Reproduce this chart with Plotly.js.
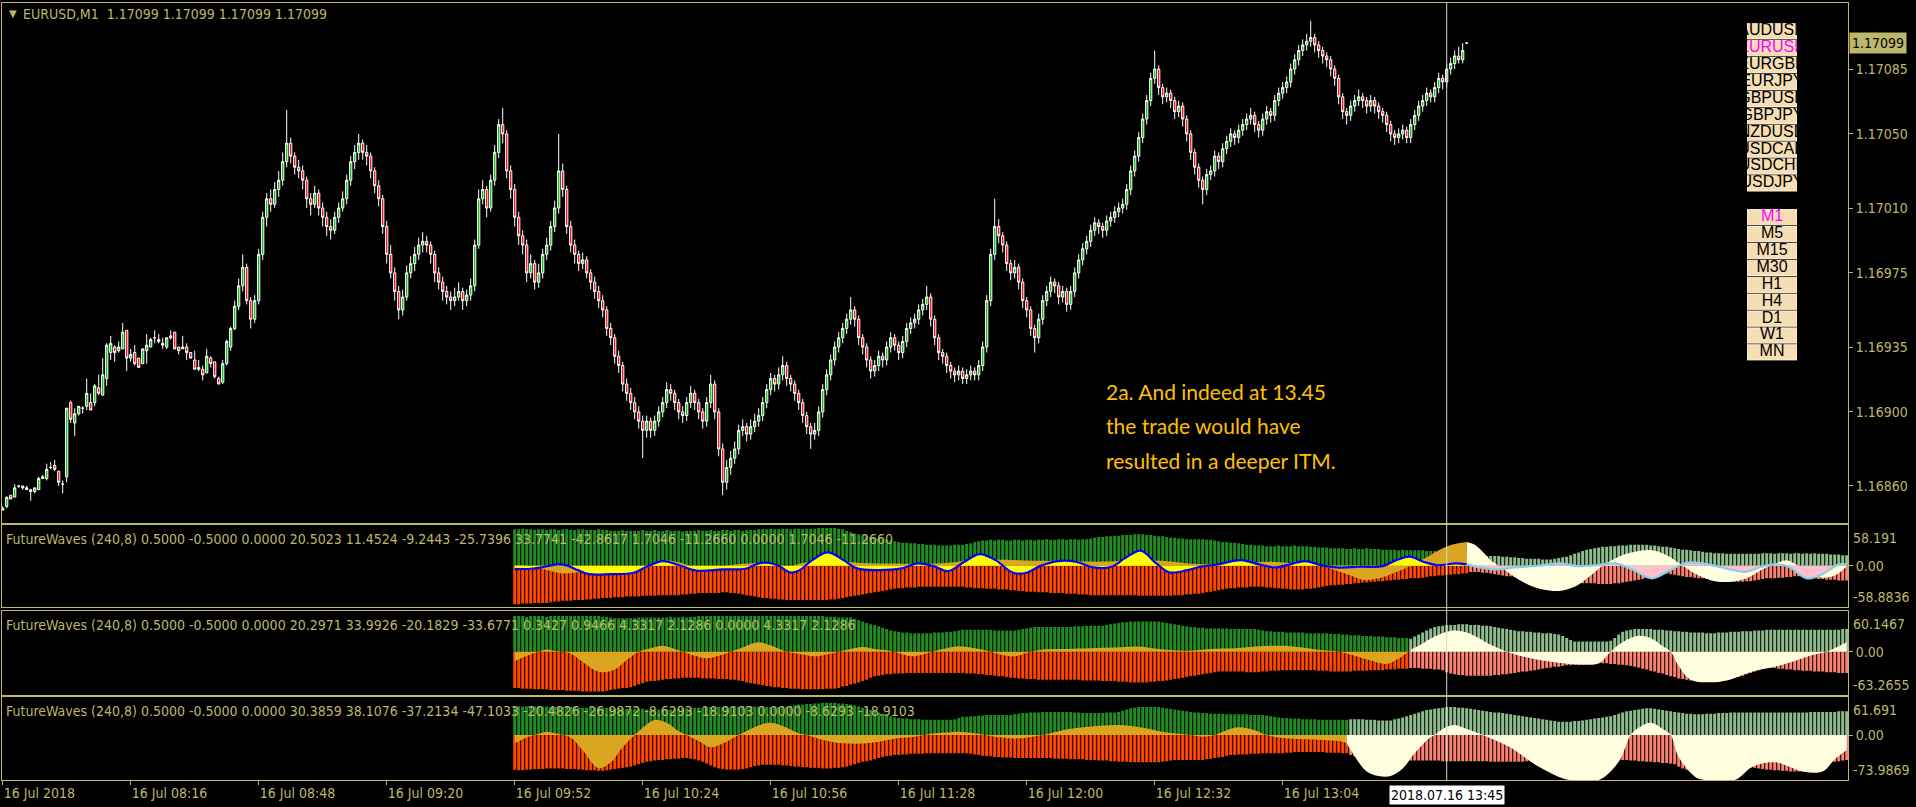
<!DOCTYPE html>
<html><head><meta charset="utf-8">
<script src="https://cdn.plot.ly/plotly-3.0.1.min.js"></script>
<style>html,body{margin:0;padding:0;background:#000;overflow:hidden}#chart{width:1916px;height:807px}</style>
</head><body><div id="chart"></div>
<script>
// ---------------- DATA ----------------
// EURUSD M1 candles, bar 0 = 16 Jul 07:44; values in 1e-5 above 1.16000
const candleOpen=[847,849,855,854,860,860,858,858,857,858,864,864,870,871,868,861,865,905,894,899,902,903,905,905,913,909,918,932,935,933,934,944,929,932,929,926,933,935,940,939,937,935,941,943,935,934,935,932,928,924,923,921,929,927,918,916,926,935,
945,957,968,978,960,950,960,985,1005,1015,1012,1020,1025,1035,1045,1038,1032,1030,1025,1015,1012,1018,1010,1005,1000,998,1005,1010,1015,1025,1035,1040,1045,1040,1038,1030,1022,1015,1000,985,975,965,955,962,975,980,985,990,992,990,985,975,970,965,962,960,962,965,960,963,968,990,1015,1020,1010,1025,1040,1055,1050,1030,
1020,1005,995,990,975,980,970,975,985,990,1000,1010,1030,1020,1000,990,985,980,982,975,970,965,960,955,945,940,930,925,915,910,905,900,895,890,895,890,895,900,905,912,910,905,900,898,905,910,905,900,895,905,915,900,880,862,870,875,880,890,892,888,892,895,898,905,912,918,915,920,925,918,
915,910,905,898,892,888,890,900,912,920,928,935,940,945,950,955,950,940,935,928,922,925,930,928,935,940,936,932,938,945,948,950,955,958,962,950,940,932,930,925,922,920,922,918,920,922,920,925,935,960,985,1000,995,990,980,975,978,970,960,955,945,940,950,960,965,970,968,962,965,958,
965,975,982,988,992,998,1002,1000,998,1003,1005,1008,1010,1012,1020,1030,1038,1048,1058,1068,1080,1085,1075,1070,1072,1068,1062,1065,1058,1050,1040,1032,1025,1020,1028,1030,1038,1035,1042,1046,1050,1048,1052,1055,1058,1060,1055,1052,1058,1062,1060,1068,1072,1075,1078,1085,1090,1095,1098,1100,
1102,1098,1095,1092,1090,1085,1080,1070,1062,1060,1065,1068,1070,1068,1065,1068,1065,1062,1060,1055,1050,1048,1050,1052,1048,1055,1060,1065,1068,1072,1070,1075,1080,1078,1085,1088,1092,1090,1099];
const candleHigh=[849,854,855,861,860,860,860,858,859,865,866,872,873,874,868,863,902,906,902,903,903,918,910,915,920,929,937,941,936,938,948,944,934,936,929,934,942,940,944,942,940,940,944,943,935,941,937,932,933,928,925,934,930,927,919,928,939,946,
960,972,985,980,962,963,988,1008,1018,1020,1024,1030,1040,1063,1048,1040,1036,1033,1027,1018,1022,1020,1013,1008,1004,1008,1013,1019,1028,1038,1044,1050,1047,1044,1040,1032,1025,1017,1003,990,978,968,966,979,984,989,994,997,995,992,987,978,973,968,965,967,970,967,966,972,993,1020,1025,1022,1028,1044,1058,1064,1052,1033,
1023,1008,998,993,985,982,980,988,994,1003,1014,1050,1034,1022,1003,993,987,986,984,977,973,968,963,957,948,942,933,927,918,913,908,903,898,898,897,898,903,908,916,915,912,907,903,908,914,912,907,902,908,920,917,902,883,874,879,884,893,896,894,896,899,902,908,915,921,920,924,930,927,920,
917,912,907,900,894,894,903,915,923,931,938,943,948,953,962,957,952,942,937,930,928,933,932,938,943,942,938,941,948,951,953,958,961,968,964,952,942,934,932,927,924,925,924,923,925,924,928,938,963,988,1015,1004,997,992,982,982,980,972,962,957,947,953,963,968,973,972,970,968,967,968,
978,985,991,995,1001,1005,1004,1002,1006,1008,1011,1013,1015,1023,1033,1041,1051,1061,1071,1083,1095,1087,1077,1075,1074,1070,1068,1067,1060,1052,1042,1034,1027,1031,1033,1041,1040,1045,1049,1053,1052,1055,1058,1061,1064,1062,1057,1061,1065,1064,1071,1075,1078,1081,1088,1093,1098,1101,1104,1111,
1104,1100,1097,1094,1092,1087,1082,1072,1064,1068,1071,1074,1072,1070,1071,1070,1067,1064,1062,1057,1052,1053,1055,1054,1058,1063,1068,1071,1075,1074,1078,1083,1082,1088,1091,1095,1097,1099,1099];
const candleLow=[847,848,853,854,859,858,858,852,856,858,864,863,869,868,860,856,862,894,887,898,899,901,901,903,909,909,914,928,927,932,934,922,927,925,924,926,926,935,937,937,934,934,939,934,931,934,928,929,923,922,917,921,924,918,915,915,925,933,
944,955,965,958,945,948,958,982,1000,1008,1010,1016,1022,1032,1034,1028,1026,1020,1010,1006,1010,1006,1000,995,993,996,1002,1008,1012,1022,1031,1036,1036,1033,1026,1018,1011,996,980,972,960,950,952,960,972,976,982,986,986,980,970,966,960,958,955,957,960,955,957,960,965,988,1012,1005,1008,1022,1037,1045,1026,1015,
1000,990,985,970,972,966,967,972,982,987,997,1007,1016,996,986,980,976,977,972,966,961,956,951,941,936,926,921,911,906,901,896,891,875,886,886,887,892,897,902,906,901,896,894,895,902,901,896,891,892,902,896,876,855,858,866,872,877,887,884,885,889,892,895,902,909,911,912,917,914,911,
906,901,894,888,880,885,887,897,909,917,925,932,937,942,947,946,936,931,924,918,919,922,924,925,932,933,928,929,935,942,945,947,952,955,946,936,928,926,921,918,916,917,915,915,917,917,917,922,932,957,982,991,986,976,971,972,966,956,951,941,932,937,947,957,962,964,958,959,954,955,
962,972,979,985,989,995,996,994,995,1000,1002,1005,1007,1009,1017,1027,1035,1045,1055,1065,1077,1071,1066,1067,1064,1058,1059,1054,1046,1036,1028,1021,1012,1017,1025,1027,1031,1032,1039,1043,1044,1045,1049,1052,1055,1051,1048,1049,1055,1056,1057,1065,1069,1072,1075,1082,1087,1092,1095,1097,
1094,1091,1088,1086,1081,1076,1066,1058,1055,1057,1062,1065,1064,1061,1062,1061,1058,1056,1051,1046,1044,1045,1047,1045,1045,1052,1057,1062,1065,1067,1067,1072,1074,1075,1082,1085,1088,1088,1099];
const candleClose=[848,854,853,859,860,859,859,857,859,864,865,869,870,869,862,861,902,896,899,903,902,910,901,914,910,920,936,937,932,935,943,929,931,926,924,934,936,939,940,938,936,940,940,934,933,935,932,929,923,923,920,930,926,919,915,926,938,945,
957,968,978,960,950,960,985,1005,1015,1012,1020,1025,1035,1045,1038,1032,1030,1025,1015,1012,1018,1010,1005,1000,998,1005,1010,1015,1025,1035,1040,1045,1040,1038,1030,1022,1015,1000,985,975,965,955,962,975,980,985,990,992,990,985,975,970,965,962,960,962,965,960,963,968,990,1015,1020,1010,1025,1040,1055,1050,1030,1020,
1005,995,990,975,980,970,975,985,990,1000,1010,1030,1020,1000,990,985,980,982,975,970,965,960,955,945,940,930,925,915,910,905,900,895,890,895,890,895,900,905,912,910,905,900,898,905,910,905,900,895,905,915,900,880,862,870,875,880,890,892,888,892,895,898,905,912,918,915,920,925,918,915,
910,905,898,892,888,890,900,912,920,928,935,940,945,950,955,950,940,935,928,922,925,930,928,935,940,936,932,938,945,948,950,955,958,962,950,940,932,930,925,922,920,922,918,920,922,920,925,935,960,985,1000,995,990,980,975,978,970,960,955,945,940,950,960,965,970,968,962,965,958,965,
975,982,988,992,998,1002,1000,998,1003,1005,1008,1010,1012,1020,1030,1038,1048,1058,1068,1080,1085,1075,1070,1072,1068,1062,1065,1058,1050,1040,1032,1025,1020,1028,1030,1038,1035,1042,1046,1050,1048,1052,1055,1058,1060,1055,1052,1058,1062,1060,1068,1072,1075,1078,1085,1090,1095,1098,1100,1102,
1098,1095,1092,1090,1085,1080,1070,1062,1060,1065,1068,1070,1068,1065,1068,1065,1062,1060,1055,1050,1048,1050,1052,1048,1055,1060,1065,1068,1072,1070,1075,1080,1078,1085,1088,1092,1090,1095,1099];

const timeTickBars=[0,32,64,96,128,160,192,224,256,288,320];
const timeTickText=["16 Jul 2018","16 Jul 08:16","16 Jul 08:48","16 Jul 09:20","16 Jul 09:52","16 Jul 10:24","16 Jul 10:56","16 Jul 11:28","16 Jul 12:00","16 Jul 12:32","16 Jul 13:04"];
const priceTicks=[1.17085,1.17050,1.17010,1.16975,1.16935,1.16900,1.16860];
const lastPrice=1.17099;
const cursorBar=361, cursorLabel="2018.07.16 13:45";

// FutureWaves indicator, first bar = 128 (09:52)
const waveStart=128;
const up1=[52,52,53,52,52,51,52,52,51,52,52,51,52,52,51,51,52,52,51,51,51,52,51,51,50,50,50,51,50,50,50,50,51,50,50,51,50,50,51,50,50,50,49,50,50,50,51,50,50,51,50,50,51,51,50,51,51,50,51,51,51,52,52,52,53,52,52,53,53,52,53,53,52,53,53,53,54,54,54,54,54,53,52,50,48,46,45,43,42,41,40,39,38,37,36,35,34,33,33,32,32,31,31,30,30,30,29,29,29,29,30,30,30,31,32,34,35,36,36,37,36,37,37,36,36,37,37,36,37,37,36,37,37,38,37,37,38,38,37,38,38,37,38,38,39,40,41,41,42,42,43,43,44,44,44,45,45,45,44,44,43,42,42,41,40,40,39,39,38,38,38,38,38,37,37,36,35,34,34,33,33,32,31,30,30,29,29,29,28,28,28,29,28,28,28,29,28,28,28,27,27,26,26,26,25,25,25,25,24,24,25,24,24,25,24,24,24,23,23,23,23,22,23,22,22,22,22,22,21,21,21,21,21,20,20,20,20,20,20,16,15,15,15,14,14,14,14,13,13,12,12,11,11,10,10,10,10,9,9,9,10,11,12,13,15,17,19,21,23,24,25,26,27,27,28,28,29,29,29,30,30,30,30,30,29,29,28,27,27,26,25,24,23,23,22,21,21,20,19,19,18,18,18,17,17,17,17,17,17,17,17,17,18,18,18,17,18,18,18,17,18,18,17,18,17,18,17,17,17,16,16,16,15,15];
const dn1=[-55,-55,-54,-54,-54,-53,-53,-53,-53,-52,-51,-51,-50,-50,-50,-49,-49,-49,-48,-48,-47,-47,-46,-46,-46,-45,-45,-45,-44,-44,-44,-44,-43,-43,-43,-43,-42,-42,-42,-42,-42,-42,-41,-41,-40,-40,-39,-39,-39,-39,-39,-39,-38,-38,-39,-39,-40,-41,-42,-43,-44,-45,-46,-46,-47,-47,-48,-48,-49,-49,-49,-49,-49,-49,-49,-49,-49,-49,-49,-48,-48,-47,-46,-45,-44,-43,-42,-41,-40,-39,-38,-37,-36,-35,-34,-33,-32,-32,-31,-31,-31,-30,-30,-30,-30,-30,-30,-30,-30,-30,-30,-30,-30,-31,-31,-32,-32,-32,-33,-33,-33,-34,-34,-34,-35,-35,-36,-36,-37,-37,-37,-38,-38,-38,-39,-39,-39,-39,-40,-40,-40,-41,-41,-41,-42,-42,-42,-42,-42,-42,-42,-42,-42,-42,-42,-42,-43,-43,-43,-43,-43,-43,-43,-43,-43,-42,-42,-42,-41,-41,-40,-40,-39,-38,-37,-36,-35,-34,-33,-32,-32,-31,-31,-31,-30,-30,-30,-30,-31,-31,-32,-32,-33,-33,-34,-34,-34,-34,-33,-33,-32,-31,-30,-29,-28,-28,-27,-27,-26,-26,-25,-25,-24,-24,-23,-23,-22,-22,-21,-21,-20,-20,-19,-19,-18,-18,-18,-17,-16,-15,-15,-14,-14,-13,-13,-12,-12,-11,-11,-9,-9,-9,-10,-10,-11,-12,-13,-14,-15,-15,-16,-17,-18,-19,-20,-21,-21,-22,-22,-23,-23,-24,-24,-24,-25,-25,-25,-25,-25,-25,-25,-26,-26,-26,-26,-25,-25,-24,-23,-22,-21,-20,-19,-17,-15,-13,-12,-11,-11,-12,-13,-14,-15,-16,-16,-17,-18,-18,-19,-20,-21,-22,-22,-23,-23,-23,-23,-23,-22,-22,-21,-20,-19,-18,-18,-18,-17,-17,-16,-16,-15,-15,-16,-17,-18,-18,-19,-19,-20,-20,-20,-21,-21,-21];
const up2=[52,52,52,51,52,52,52,52,51,52,52,52,52,52,52,52,52,52,52,52,52,52,51,51,50,49,49,49,49,49,49,50,50,50,50,50,50,50,50,51,50,50,51,50,51,51,52,52,52,52,52,52,52,52,52,52,52,52,52,52,52,52,52,52,52,52,52,52,52,52,52,52,52,52,52,52,52,52,51,51,51,50,50,50,50,48,46,44,42,40,39,37,35,33,31,30,29,28,28,27,27,27,27,27,27,28,28,28,29,29,30,31,32,32,32,32,32,32,32,32,31,31,31,31,31,31,32,33,34,35,36,36,36,36,36,36,36,36,36,36,37,37,37,38,38,38,38,38,39,40,41,42,43,43,44,44,44,44,44,44,44,44,43,42,41,40,39,38,37,36,36,35,35,34,34,34,34,34,34,33,33,33,33,33,33,33,32,31,30,30,29,29,29,28,28,28,28,28,27,27,27,27,27,27,26,26,26,25,25,24,24,24,23,23,23,22,22,22,21,21,21,20,20,20,19,22,25,28,31,34,36,37,38,39,39,39,40,40,40,39,39,39,38,38,37,36,35,34,33,32,31,30,30,29,29,28,28,27,27,27,26,25,23,20,17,15,15,15,15,15,15,15,15,15,16,20,25,29,31,32,33,33,33,33,33,32,32,32,31,31,30,30,29,29,28,28,28,28,27,27,27,28,28,28,29,29,29,30,30,30,31,31,31,32,32,32,32,32,32,32,32,32,32,32,32,32,32,32,32,32,32,32,33,33];
const dn2=[-53,-53,-54,-54,-54,-55,-55,-55,-55,-56,-56,-56,-56,-57,-57,-57,-57,-58,-58,-58,-58,-58,-58,-57,-56,-55,-54,-53,-53,-52,-50,-48,-46,-44,-43,-43,-42,-41,-40,-40,-39,-39,-38,-38,-38,-38,-38,-39,-39,-39,-39,-40,-40,-40,-41,-41,-42,-43,-45,-46,-47,-48,-49,-50,-51,-52,-52,-53,-53,-54,-54,-54,-55,-55,-55,-55,-55,-55,-54,-54,-54,-53,-51,-50,-48,-47,-45,-43,-41,-38,-36,-35,-34,-33,-33,-32,-32,-32,-31,-31,-31,-31,-31,-31,-31,-31,-31,-31,-31,-31,-31,-31,-31,-32,-32,-32,-33,-33,-34,-34,-35,-36,-36,-37,-38,-38,-39,-39,-40,-40,-40,-41,-41,-41,-41,-41,-41,-41,-41,-41,-41,-41,-42,-42,-42,-42,-42,-43,-43,-43,-43,-44,-44,-44,-45,-45,-45,-45,-45,-44,-44,-43,-43,-42,-41,-40,-39,-38,-37,-36,-35,-34,-33,-32,-31,-30,-29,-29,-29,-29,-29,-29,-29,-30,-30,-30,-30,-29,-29,-28,-28,-28,-27,-27,-27,-27,-27,-27,-27,-27,-27,-28,-28,-28,-29,-29,-29,-29,-29,-29,-28,-28,-28,-28,-27,-27,-27,-27,-26,-26,-26,-25,-25,-25,-24,-24,-24,-25,-25,-25,-26,-26,-27,-30,-32,-33,-34,-34,-35,-35,-35,-35,-35,-35,-35,-34,-34,-33,-33,-32,-31,-30,-29,-29,-28,-27,-26,-25,-24,-23,-22,-22,-21,-20,-20,-19,-19,-18,-18,-17,-17,-17,-17,-17,-18,-18,-19,-19,-20,-21,-22,-23,-25,-26,-28,-29,-31,-32,-34,-36,-37,-39,-40,-41,-42,-42,-43,-43,-43,-43,-42,-42,-41,-40,-39,-38,-37,-35,-33,-31,-29,-27,-25,-24,-24,-24,-25,-25,-26,-26,-27,-27,-28,-28,-28,-29,-29,-29,-30,-30,-30,-31,-31,-31];
const up3=[47,47,47,47,47,47,47,47,47,46,46,46,46,46,46,46,45,45,45,45,45,45,45,45,44,44,44,44,43,43,43,43,43,42,42,42,42,42,42,42,43,43,44,44,44,45,45,45,46,46,46,46,46,46,46,47,47,47,47,47,47,47,47,46,46,46,46,47,47,47,49,50,50,51,51,52,52,53,53,53,53,52,52,51,50,49,47,45,43,41,39,37,35,33,31,29,28,27,27,26,26,26,25,25,25,25,25,25,25,25,26,28,30,30,31,31,32,32,33,33,33,33,33,33,33,34,35,36,36,37,37,37,38,38,38,38,38,38,38,38,37,37,36,36,36,36,36,36,37,37,37,38,40,42,44,45,46,46,46,46,46,46,45,44,43,42,41,40,39,38,37,37,36,36,35,35,35,35,34,34,34,34,34,34,33,33,33,33,32,31,30,29,28,28,27,27,27,26,26,26,26,25,25,25,25,25,25,25,25,26,26,26,26,25,25,25,24,24,24,24,26,27,29,31,33,35,37,39,41,42,43,44,45,46,46,46,45,45,44,43,42,41,40,39,38,37,37,36,35,34,33,32,31,30,29,28,27,26,25,24,23,22,22,22,22,23,23,24,25,26,27,28,29,30,31,33,35,37,39,40,41,42,43,44,44,43,42,41,40,39,38,37,36,35,35,34,34,34,35,35,35,36,36,36,37,37,37,37,37,37,37,37,37,37,37,37,37,37,37,37,37,37,37,37,38,38,38,38,38,38,38,39,39,39];
const dn3=[-57,-58,-58,-57,-57,-56,-56,-56,-55,-55,-55,-55,-55,-56,-56,-56,-57,-57,-58,-58,-58,-59,-59,-58,-57,-56,-55,-54,-53,-52,-50,-48,-46,-44,-43,-42,-41,-41,-40,-40,-39,-39,-38,-38,-39,-40,-42,-44,-47,-50,-53,-55,-56,-57,-57,-57,-57,-56,-55,-53,-51,-50,-49,-49,-49,-49,-49,-50,-50,-51,-52,-52,-53,-53,-54,-54,-54,-55,-55,-55,-54,-54,-53,-52,-50,-48,-46,-44,-43,-42,-40,-38,-36,-35,-34,-33,-33,-32,-32,-31,-31,-31,-31,-30,-30,-30,-30,-30,-30,-30,-30,-30,-30,-30,-31,-32,-33,-34,-35,-35,-36,-36,-37,-37,-37,-38,-38,-38,-38,-38,-38,-38,-38,-38,-38,-39,-39,-39,-39,-40,-40,-40,-40,-41,-41,-41,-42,-42,-42,-43,-43,-44,-44,-44,-45,-45,-45,-45,-45,-45,-45,-45,-44,-43,-42,-41,-41,-41,-41,-41,-41,-41,-41,-40,-39,-38,-37,-36,-34,-33,-33,-32,-32,-32,-31,-31,-31,-30,-30,-30,-30,-30,-30,-29,-29,-28,-28,-28,-28,-28,-28,-28,-28,-29,-29,-29,-29,-30,-30,-33,-35,-37,-38,-39,-40,-40,-40,-40,-41,-41,-41,-41,-41,-41,-42,-42,-42,-42,-42,-42,-42,-42,-43,-43,-43,-43,-43,-43,-43,-43,-43,-43,-43,-43,-44,-44,-44,-44,-44,-44,-44,-44,-44,-43,-43,-43,-44,-44,-45,-45,-45,-46,-46,-46,-46,-45,-45,-45,-44,-44,-44,-44,-43,-43,-42,-42,-41,-41,-41,-42,-42,-43,-43,-44,-44,-45,-45,-46,-46,-47,-48,-52,-55,-57,-57,-56,-56,-55,-55,-55,-54,-54,-53,-53,-52,-52,-51,-51,-52,-53,-54,-55,-56,-57,-57,-58,-58,-59,-59,-60,-60,-60,-60,-59,-58,-56,-54,-51,-48,-46,-44,-43,-42,-41];
// wave curves read at turning points: [bar, value]
const wave1Bar=[128,132,136,140,145,150,156,160,163,166,169,172,176,180,185,189,193,197,200,205,208,212,216,225,232,238,243,248,254,260,265,270,276,282,287,292,297,303,310,316,322,328,333,337,340,344,348,352,356,360,363,366,368,370,372,374,377,381,385,389,393,397,400,404,408,412,416,420,424,428,432,436,440,442,444,446,448,449,452,455,458,461];
const wave1Val=[1,0,-6,-11,-9,-11,-11,-6,2,7.6,5,0,-3,0,3,3.5,1,0,4,7.6,8,5,3.5,3,3,5,10,9,8,7,7,6,6,8,8,6,3,2,3,5.7,4,2,-6,-14,-20,-18,-10,0,12,25,31,34,30,20,8,0,-12,-26,-34,-36,-30,-14,0,13,20,22.4,15,0,-14,-22,-23,-18,-5,0,5,8,3,0,-12,-17,-14,-1];
const line1Bar=[128,132,135.5,138.8,141,143.8,146.6,152,157.8,161,165,169,173.4,180,185.7,189,191.3,194,196.8,199,202.4,206.3,210.2,213.6,219.2,224.7,228.7,232.6,236.5,240.4,244.3,248.2,252.6,256,259.3,263.8,268.3,272.7,277.2,280.5,284.5,288.4,291.7,296.2,299.3,303.9,309.6,314.1,318.1,322.1,325.6,329.5,333.5,339.3,345,348.4,351.8,355.2,358.7,363.2,366,370,373.5,378,383.8,389.5,394,398.6,403.2,407.7,412.3,416.9,420.3,422.6,427.2,431.7,435.7,439.7,443.1,446.5,451,454.5,459,461];
const line1Val=[-4.8,-4.3,-1.4,1.9,0.5,-6.2,-12,-12,-10,-1.4,6.7,1,-7,-5.2,-4.3,3.3,4.3,0,-9.5,-7,8,19,8,-3.8,-6.2,-3.8,3.3,-0.5,-7.6,5.7,16.7,8,-10,-10,-0.5,6.7,5.7,-2.4,-1.4,10.5,21.4,3.3,-9.5,-6.2,-1.4,1.9,8,1.9,-2.4,2.4,6.7,1,-2.4,-1.4,-0.5,8,12.9,5.7,1,3.3,2,-2.9,-5.2,-2.4,0,3.3,-0.5,1,3.3,-6.2,-18,-6.2,3.3,4.8,1,-5.2,-8.6,-1.4,1.9,-1.4,-18,-13.3,1.9,1.9];
const wave2Bar=[128,131,134,136,138,140,142,145,148,150,153,156,159,162,165,168,170,173,176,179,182,185,189,193,196,200,203,206,209,212,215,218,221,224,227,230,233,236,239,243,247,250,253,256,260,266,272,278,284,290,296,302,308,314,320,325,330,334,338,342,346,349,352,355,358,361,363,366,369,372,376,380,385,390,395,399,402,404,407,409,412,415,417,419,422,427,431,437.5,445,452.7,456,461];
const wave2Val=[-14,-6,0,3,1,0,-3,-15,-27,-30,-26,-12,0,5,8.7,4,0,-6,-9.8,-6,0,6,13.6,7,0,-4,-6.8,-4,0,4,6.8,4,2,-2,-6.8,-4,1,5,7.8,5,0,-5,-6.8,-2,3,4,5,6,7.5,3,1.5,4,5,7.8,8.7,6,2,0,-6,-13,-18,-10,2.9,12,22,29,31,28,20,10,0,-7,-13,-17,-19,-17,0,10,20,23.3,20,8,0,-21,-41,-44.8,-42,-28.8,-19,-4.4,0,13.6];
const wave3Bar=[128,131,134,136,138,140,142,145,149,152,155,158,160,163,166,169,171,174,177,180,184,187,191.5,195,199,201,205,210,216,220,224,228,232,236,239,244,248,254,260,265,272,279,285,291,297,300,303,306,309,313,316,320,325,330,334,336,337.5,341,344,347,350,353,356.7,358,360,362.8,366,370,376.5,384,391.7,399,404,407,409,412,415,417,419,423.7,427,433,437.5,443,450,455,458,461];
const wave3Val=[-13.7,-4,2,5.5,3,0,-4,-25,-54.8,-45,-20,0,12,24.7,20,6,0,-10,-20.3,-14,0,10,20.3,15,3,0,-8,-13.7,-13.7,-10,-5,-2.7,2,4,5.5,2,-3,-5.5,0,8,14,16.4,12,4,0,-2.7,0,8,12.6,8,0,-5,-7,-8,-10,-13.7,-30,-60,-67.4,-67.4,-55,-30,-5,0,10,16.4,10,0,-19,-52,-74,-74,-44,0,12,20.3,10,0,-36,-71.3,-74,-74,-52,-45,-60,-60,-40,-24.7];
// last known bar of each panel before the projected (future) part
const histEnd=[366,351,336];
const panelRanges=[[-58.8836,58.191],[-63.2655,60.1467],[-73.9869,61.691]];
const panelMaxText=["58.191","60.1467","61.691"], panelMinText=["-58.8836","-63.2655","-73.9869"];
const panelTitles=["FutureWaves (240,8) 0.5000 -0.5000 0.0000 20.5023 11.4524 -9.2443 -25.7396 33.7741 -42.8617 1.7046 -11.2660 0.0000 1.7046 -11.2660",
"FutureWaves (240,8) 0.5000 -0.5000 0.0000 20.2971 33.9926 -20.1829 -33.6771 0.3427 0.9466 4.3317 2.1286 0.0000 4.3317 2.1286",
"FutureWaves (240,8) 0.5000 -0.5000 0.0000 30.3859 38.1076 -37.2134 -47.1033 -20.4826 -26.9872 -8.6293 -18.9103 0.0000 -8.6293 -18.9103"];
const symbolButtons=["AUDUSD","EURUSD","EURGBP","EURJPY","GBPUSD","GBPJPY","NZDUSD","USDCAD","USDCHF","USDJPY"];
const tfButtons=["M1","M5","M15","M30","H1","H4","D1","W1","MN"];
const activeSymbol="EURUSD", activeTf="M1";
const noteLines=["2a. And indeed at 13.45","the trade would have","resulted in a deeper ITM."];

// ---------------- CHART ----------------
const FG='#BDB76B', FONT='"DejaVu Sans Condensed","DejaVu Sans",sans-serif';
const px=v=>+(1.16+v*1e-5).toFixed(5);
const idx=candleClose.map((_,i)=>i);
const traces=[];
traces.push({type:'candlestick',x:idx,open:candleOpen.map(px),high:candleHigh.map(px),low:candleLow.map(px),close:candleClose.map(px),
  xaxis:'x',yaxis:'y',whiskerwidth:0,hoverinfo:'skip',
  increasing:{line:{color:'#ffffff',width:1},fillcolor:'#00c000'},
  decreasing:{line:{color:'#ffffff',width:1},fillcolor:'#ff0000'}});

const ups=[up1,up2,up3], dns=[dn1,dn2,dn3];
const wB=[wave1Bar,wave2Bar,wave3Bar], wV=[wave1Val,wave2Val,wave3Val];
function split(bx,vals,end,hist){const x=[],y=[];bx.forEach((b,i)=>{if(hist?b<=end:b>=end){x.push(b);y.push(vals[i]);}});return {x,y};}
for(let p=0;p<3;p++){
  const xa='x'+(p+2), ya='y'+(p+2);
  const bx=ups[p].map((_,i)=>waveStart+i);
  traces.push({type:'bar',x:bx,y:ups[p],base:0,width:0.75,xaxis:xa,yaxis:ya,hoverinfo:'skip',
    marker:{color:bx.map(b=>b>histEnd[p]?'#8FBC8F':'#228B22'),line:{width:0}}});
  traces.push({type:'bar',x:bx,y:dns[p],base:0,width:0.75,xaxis:xa,yaxis:ya,hoverinfo:'skip',
    marker:{color:bx.map(b=>b>histEnd[p]?'#FA8072':'#FF4500'),line:{width:0}}});
  const wh=split(wB[p],wV[p],histEnd[p]+(p===1?1:0),true), wf=split(wB[p],wV[p],histEnd[p]+(p===1?1:0),false);
  traces.push({type:'scatter',mode:'lines',x:wh.x,y:wh.y,xaxis:xa,yaxis:ya,fill:'tozeroy',fillcolor:'#DAA520',line:{shape:'spline',width:0,color:'#DAA520'},hoverinfo:'skip'});
  traces.push({type:'scatter',mode:'lines',x:wf.x,y:wf.y,xaxis:xa,yaxis:ya,fill:'tozeroy',fillcolor:'#FFFFE0',line:{shape:'spline',width:0,color:'#FFFFE0'},hoverinfo:'skip'});
  if(p===0){
    const lh=split(line1Bar,line1Val,histEnd[0],true), lf=split(line1Bar,line1Val,histEnd[0],false);
    traces.push({type:'scatter',mode:'lines',x:lh.x,y:lh.y,xaxis:xa,yaxis:ya,fill:'tozeroy',fillcolor:'#FFFF00',line:{shape:'spline',width:0},hoverinfo:'skip'});
    traces.push({type:'scatter',mode:'lines',x:lf.x,y:lf.y,xaxis:xa,yaxis:ya,fill:'tozeroy',fillcolor:'#FFC0CB',line:{shape:'spline',width:0},hoverinfo:'skip'});
    traces.push({type:'scatter',mode:'lines',x:lh.x,y:lh.y,xaxis:xa,yaxis:ya,line:{shape:'spline',width:2.2,color:'#0000FF'},hoverinfo:'skip'});
    traces.push({type:'scatter',mode:'lines',x:lf.x,y:lf.y,xaxis:xa,yaxis:ya,line:{shape:'spline',width:2.2,color:'#87CEEB'},hoverinfo:'skip'});
  }
}
// buttons panel
const rows=[], labels=[], colors=[];
symbolButtons.forEach((s,i)=>{rows.push(i);labels.push(s);colors.push(s===activeSymbol?'#FF00FF':'#000');});
tfButtons.forEach((s,i)=>{rows.push(symbolButtons.length+1+i);labels.push(s);colors.push(s===activeTf?'#FF00FF':'#000');});
traces.push({type:'bar',orientation:'h',y:rows,x:rows.map(()=>1),base:0,width:0.9,xaxis:'x5',yaxis:'y5',hoverinfo:'skip',
  marker:{color:'#F5DEB3',line:{color:'#FFF3DC',width:1}}});
traces.push({type:'scatter',mode:'text',y:rows,x:rows.map(()=>0.5),text:labels,textposition:'middle center',cliponaxis:true,
  textfont:{family:'"Liberation Sans",Arial,sans-serif',size:16,color:colors},xaxis:'x5',yaxis:'y5',hoverinfo:'skip'});

const XD=[1.5/1916,1848/1916], XR=[-0.3,461.325];
const baseX={domain:XD,range:XR,showline:true,mirror:true,linecolor:FG,linewidth:1,showgrid:false,zeroline:false,ticks:'',showticklabels:false,fixedrange:true};
const baseY={side:'right',showline:true,mirror:true,linecolor:FG,linewidth:1,showgrid:false,zeroline:false,ticks:'outside',ticklen:4,tickcolor:FG,
  tickfont:{family:FONT,size:14,color:FG},fixedrange:true,automargin:false};
const doms=[[0.35254,0.99690],[0.24783,0.34944],[0.13879,0.24349],[0.03346,0.13569]];
const layout={width:1916,height:807,paper_bgcolor:'#000',plot_bgcolor:'#000',margin:{l:0,r:0,t:0,b:0},showlegend:false,
  barmode:'overlay',boxgap:0.2,font:{family:FONT,size:14,color:FG},
  xaxis:Object.assign({},baseX,{anchor:'y',rangeslider:{visible:false}}),
  xaxis2:Object.assign({},baseX,{anchor:'y2',matches:'x'}),
  xaxis3:Object.assign({},baseX,{anchor:'y3',matches:'x'}),
  xaxis4:Object.assign({},baseX,{anchor:'y4',matches:'x',ticks:'outside',ticklen:4,tickcolor:FG,showticklabels:true,
    tickmode:'array',tickvals:timeTickBars,ticktext:timeTickText,ticklabelposition:'outside right',tickfont:{family:FONT,size:14,color:FG}}),
  yaxis:Object.assign({},baseY,{domain:doms[0],anchor:'x',range:[1.168403,1.171209],tickmode:'array',tickvals:priceTicks,ticktext:priceTicks.map(v=>v.toFixed(5))}),
  xaxis5:{domain:[1747/1916,1797/1916],range:[0,1],visible:false,anchor:'y5',fixedrange:true},
  yaxis5:{domain:[0.55285,0.97169],range:[19.5,-0.5],visible:false,anchor:'x5',fixedrange:true},
  shapes:[{type:'line',xref:'x',x0:cursorBar,x1:cursorBar,yref:'paper',y0:doms[3][0],y1:doms[0][1],line:{color:'#d8d8d8',width:1},layer:'above'}],
  annotations:[]};
for(let p=0;p<3;p++){
  layout['yaxis'+(p+2)]=Object.assign({},baseY,{domain:doms[p+1],anchor:'x'+(p+2),range:panelRanges[p],tickmode:'array',tickvals:[0],ticktext:['0.00']});
  const ya='y'+(p+2)+' domain';
  layout.annotations.push({xref:'paper',x:4/1916,xanchor:'left',yref:ya,y:1,yanchor:'top',yshift:-4,showarrow:false,text:panelTitles[p],font:{family:FONT,size:14,color:FG}});
  layout.annotations.push({xref:'paper',x:1851/1916,xanchor:'left',yref:ya,y:1,yanchor:'top',yshift:-3,showarrow:false,text:panelMaxText[p],font:{family:FONT,size:14,color:FG}});
  layout.annotations.push({xref:'paper',x:1851/1916,xanchor:'left',yref:ya,y:0,yanchor:'bottom',yshift:0,showarrow:false,text:panelMinText[p],font:{family:FONT,size:14,color:FG}});
}
layout.annotations.push({xref:'paper',x:7/1916,xanchor:'left',yref:'y domain',y:1,yanchor:'top',yshift:-3,showarrow:false,text:'▼',font:{family:'DejaVu Sans',size:10,color:FG}});
layout.annotations.push({xref:'paper',x:21/1916,xanchor:'left',yref:'y domain',y:1,yanchor:'top',yshift:-1,showarrow:false,
  text:'EURUSD,M1\u00a0\u00a0'+[lastPrice,lastPrice,lastPrice,lastPrice].map(v=>v.toFixed(5)).join(' '),font:{family:FONT,size:14,color:FG}});
layout.annotations.push({xref:'paper',x:1849/1916,xanchor:'left',yref:'y',y:lastPrice,yanchor:'middle',showarrow:false,text:lastPrice.toFixed(5),
  bgcolor:'#BDB76B',borderpad:2,font:{family:FONT,size:14,color:'#000'}});
layout.annotations.push({xref:'x',x:cursorBar,xanchor:'center',yref:'y4 domain',y:0,yanchor:'top',yshift:-5,showarrow:false,text:cursorLabel,
  bgcolor:'#ffffff',borderpad:1,font:{family:FONT,size:14,color:'#000'}});
noteLines.forEach((t,i)=>layout.annotations.push({xref:'paper',x:1104/1916,xanchor:'left',yref:'paper',y:1-(391+34.5*i)/807,yanchor:'middle',showarrow:false,text:t,
  font:{family:'Lato, "Open Sans", sans-serif',size:21,color:'#FFC000'}}));

Plotly.newPlot('chart',traces,layout,{displayModeBar:false,staticPlot:true});
</script></body></html>
